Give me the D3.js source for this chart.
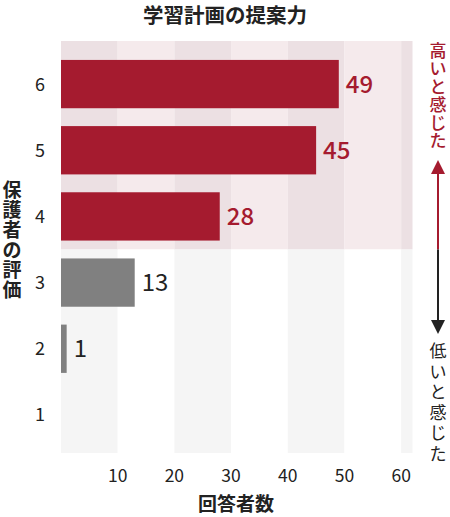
<!DOCTYPE html>
<html><head><meta charset="utf-8">
<script src="https://cdn.jsdelivr.net/npm/d3@7"></script>
<style>
body{margin:0;background:#fff;}
text{font-family:"Noto Sans CJK JP","Noto Sans",sans-serif;}
</style></head><body>
<svg id="c" width="450" height="517"></svg>
<script>
const categories = ["6","5","4","3","2","1"];
const values = [49,45,28,13,1,0];
const highCats = ["6","5","4"];
const xTicks = [10,20,30,40,50,60];
const title = "学習計画の提案力";
const xTitle = "回答者数";
const yTitle = "保護者の評価";
const highLabel = "高いと感じた";
const lowLabel = "低いと感じた";

const svg = d3.select("#c");
const x = d3.scaleLinear().domain([0,62]).range([61,412.5]);
const y = d3.scaleBand().domain(categories).range([51,448]).paddingInner(0.27).paddingOuter(0.135);
const bgTop = 41, bgBot = 453;
const step = y.step();
const splitY = y("4") + y.bandwidth() + (step - y.bandwidth())/2;

// stripes
const stripes = d3.range(0,62,10).map(s=>[s, Math.min(s+10,62)]);
stripes.forEach((s,i)=>{
  const shade = i%2===0;
  svg.append("rect").attr("x",x(s[0])).attr("width",x(s[1])-x(s[0]))
    .attr("y",bgTop).attr("height",splitY-bgTop)
    .attr("fill", shade? "#ece0e3" : "#f5eaec");
  svg.append("rect").attr("x",x(s[0])).attr("width",x(s[1])-x(s[0]))
    .attr("y",splitY).attr("height",bgBot-splitY)
    .attr("fill", shade? "#f5f5f5" : "#ffffff");
});

// bars
categories.forEach((c,i)=>{
  const v = values[i];
  if (v<=0) return;
  const hi = highCats.includes(c);
  svg.append("rect").attr("x",x(0)).attr("y",y(c))
    .attr("width",x(v)-x(0)).attr("height",y.bandwidth())
    .attr("fill", hi? "#a51b2f" : "#808080");
  svg.append("text").attr("x",x(v)+7).attr("y",y(c)+y.bandwidth()/2)
    .attr("dy","0.36em").attr("font-size",24)
    .attr("font-weight", hi? 500 : 400)
    .attr("fill", hi? "#a51b2f" : "#222").text(v);
});

// y tick labels
categories.forEach(c=>{
  svg.append("text").attr("x",40).attr("y",y(c)+y.bandwidth()/2)
    .attr("dy","0.36em").attr("text-anchor","middle").attr("font-size",18)
    .attr("font-weight",400).attr("fill","#222").text(c);
});
// x tick labels
xTicks.forEach(t=>{
  svg.append("text").attr("x",x(t)).attr("y",476).attr("dy","0.36em")
    .attr("text-anchor","middle").attr("font-size",17.5).attr("font-weight",400)
    .attr("fill","#222").text(t);
});

// titles
svg.append("text").attr("x",225).attr("y",16).attr("dy","0.36em")
  .attr("text-anchor","middle").attr("font-size",20.5).attr("font-weight",700)
  .attr("fill","#222").text(title);
svg.append("text").attr("x",236).attr("y",504).attr("dy","0.36em")
  .attr("text-anchor","middle").attr("font-size",19).attr("font-weight",700)
  .attr("fill","#222").text(xTitle);

// vertical labels, one character per line
function vtext(str, cx, y0, size, weight, fill, stepPx){
  Array.from(str).forEach((ch,i)=>{
    svg.append("text").attr("x",cx).attr("y",y0 + i*stepPx).attr("dy","0.36em")
      .attr("text-anchor","middle").attr("font-size",size).attr("font-weight",weight)
      .attr("fill",fill).text(ch);
  });
}
vtext(yTitle, 12, 190, 19, 700, "#222", 20);
vtext(highLabel, 438, 51, 17, 500, "#a51b2f", 18);
vtext(lowLabel, 438, 351, 17, 400, "#222", 20.5);

// arrow
const ax = 438;
svg.append("line").attr("x1",ax).attr("x2",ax).attr("y1",172).attr("y2",splitY)
  .attr("stroke","#a51b2f").attr("stroke-width",2);
svg.append("line").attr("x1",ax).attr("x2",ax).attr("y1",splitY).attr("y2",322)
  .attr("stroke","#222").attr("stroke-width",2);
svg.append("path").attr("d",`M${ax},160L${ax-7},174L${ax+7},174Z`).attr("fill","#a51b2f");
svg.append("path").attr("d",`M${ax},334L${ax-7},320L${ax+7},320Z`).attr("fill","#222");
</script></body></html>
